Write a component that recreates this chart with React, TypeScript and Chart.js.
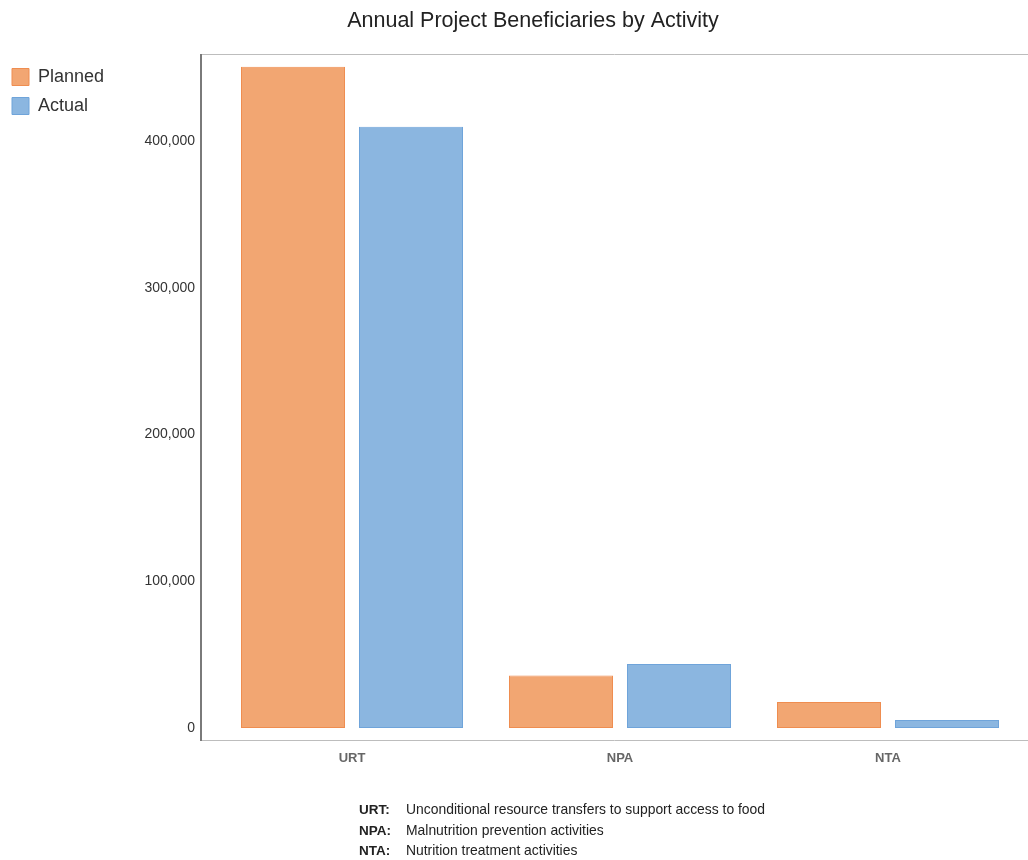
import React, { useEffect, useRef } from 'react';
import { Chart, registerables } from 'chart.js';

Chart.register(...registerables);

const titleText = 'Annual Project Beneficiaries by Activity';
const categories = ['URT', 'NPA', 'NTA'];
const seriesNames = ['Planned', 'Actual'];
const plannedValues = [450600, 35800, 17700];
const actualValues = [409700, 43600, 5500];
const yTickValues = [0, 100000, 200000, 300000, 400000];
const footnoteCodes = ['URT:', 'NPA:', 'NTA:'];
const footnoteTexts = [
  'Unconditional resource transfers to support access to food',
  'Malnutrition prevention activities',
  'Nutrition treatment activities',
];

const FONT = '"Liberation Sans", Arial, Helvetica, sans-serif';

const framePlugin = {
  id: 'framePlugin',
  beforeDatasetsDraw(chart: any) {
    const { ctx, chartArea } = chart;
    const left = chartArea.left - 17;
    const right = chartArea.right + 6;
    const top = chartArea.top - 3;
    const bottom = chartArea.bottom;
    ctx.save();
    ctx.strokeStyle = '#bdbdbd';
    ctx.lineWidth = 1;
    ctx.beginPath();
    ctx.moveTo(left, top + 0.5);
    ctx.lineTo(right, top + 0.5);
    ctx.moveTo(left, bottom - 0.5);
    ctx.lineTo(right, bottom - 0.5);
    ctx.stroke();
    ctx.strokeStyle = '#7a7a7a';
    ctx.lineWidth = 2;
    ctx.beginPath();
    ctx.moveTo(left, top);
    ctx.lineTo(left, bottom);
    ctx.stroke();
    ctx.restore();
  },
  afterDraw(chart: any) {
    const { ctx } = chart;
    ctx.save();
    ctx.fillStyle = '#222';
    ctx.textAlign = 'center';
    ctx.textBaseline = 'alphabetic';
    ctx.font = `21.5px ${FONT}`;
    ctx.fillText(titleText, 533, 27);
    ctx.textAlign = 'left';
    footnoteCodes.forEach((code, i) => {
      const y = 814 + i * 20.5;
      ctx.font = `bold 13.5px ${FONT}`;
      ctx.fillStyle = '#222';
      ctx.fillText(code, 359, y);
      ctx.font = `13.9px ${FONT}`;
      ctx.fillText(footnoteTexts[i], 406, y);
    });
    ctx.restore();
  },
};

export default function App() {
  const canvasRef = useRef<HTMLCanvasElement | null>(null);

  useEffect(() => {
    if (!canvasRef.current) return;
    const chart = new Chart(canvasRef.current, {
      type: 'bar',
      data: {
        labels: categories,
        datasets: [
          {
            label: seriesNames[0],
            data: plannedValues,
            backgroundColor: '#f2a672',
            borderColor: '#ef8d50',
            borderWidth: 1,
            borderSkipped: false,
          },
          {
            label: seriesNames[1],
            data: actualValues,
            backgroundColor: '#8bb6e0',
            borderColor: '#6fa4da',
            borderWidth: 1,
            borderSkipped: false,
          },
        ],
      },
      options: {
        animation: false,
        responsive: true,
        maintainAspectRatio: false,
        datasets: {
          bar: {
            categoryPercentage: 0.8806,
            barPercentage: 0.8814,
          },
        },
        layout: {
          padding: { left: 1, top: 57, right: 6, bottom: 0 },
        },
        plugins: {
          title: { display: false },
          tooltip: { enabled: false },
          legend: {
            display: true,
            position: 'left',
            align: 'start',
            labels: {
              boxWidth: 17,
              boxHeight: 17,
              padding: 11,
              color: '#333',
              font: { family: FONT, size: 18 },
            },
          },
        },
        scales: {
          x: {
            grid: { display: false, drawTicks: false },
            border: { display: false },
            ticks: {
              color: '#666',
              padding: 10,
              font: { family: FONT, size: 13, weight: 'bold' },
            },
            afterFit(scale: any) {
              scale.height = 119;
            },
          },
          y: {
            min: -8859,
            max: 457240,
            grid: { display: false, drawTicks: false },
            border: { display: false },
            afterBuildTicks(scale: any) {
              scale.ticks = yTickValues.map((v) => ({ value: v }));
            },
            afterFit(scale: any) {
              const lw = scale.chart.legend && scale.chart.legend.width ? scale.chart.legend.width : 110;
              scale.width = 217 - lw;
            },
            ticks: {
              color: '#333',
              padding: 23,
              font: { family: FONT, size: 14 },
              callback: (v: any) => Number(v).toLocaleString('en-US'),
            },
          },
        },
      },
      plugins: [framePlugin],
    } as any);
    return () => chart.destroy();
  }, []);

  return (
    <div style={{ position: 'absolute', left: 0, top: 0, width: 1028, height: 860 }}>
      <canvas ref={canvasRef} />
    </div>
  );
}
